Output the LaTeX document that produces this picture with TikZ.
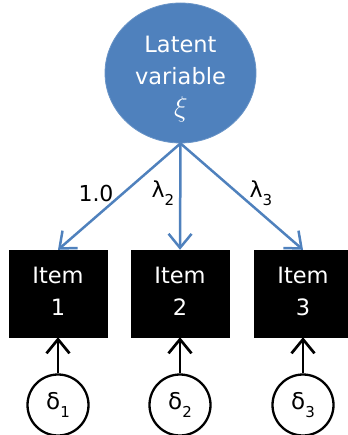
\documentclass[tikz,border=0pt]{standalone}
\usepackage{fontspec}
\setmainfont{DejaVu Sans}
\usetikzlibrary{shapes.geometric,arrows.meta}
\definecolor{lvblue}{HTML}{4F81BD}
\newcommand{\sub}[1]{\raisebox{-0.38em}{\fontsize{15}{15}\selectfont #1}}
\newcommand{\twoline}[2]{\raisebox{-9pt}{\begin{tabular}{@{}c@{}}#1\\#2\end{tabular}}}
\begin{document}
\begin{tikzpicture}[x=1pt,y=-1pt,
  lat/.style={ellipse, fill=lvblue, draw=lvblue!85!white, line width=0.8pt,
    minimum width=151pt, minimum height=140pt, inner sep=0pt},
  lattext/.style={text=white, align=center, inner sep=0pt,
    font=\fontsize{22.5}{32}\selectfont},
  itembox/.style={rectangle, fill=black, draw=black, minimum width=98pt,
    minimum height=87pt, inner sep=0pt, text=white,
    font=\fontsize{22.5}{32}\selectfont},
  errc/.style={circle, draw=black, line width=2.3pt, minimum size=61pt,
    inner sep=0pt, font=\fontsize{23}{25}\selectfont},
  load/.style={draw=lvblue, line width=2.5pt,
    -{Straight Barb[length=14pt, width=23pt, line width=2.5pt]}},
  errarrow/.style={draw=black, line width=2.7pt,
    -{Straight Barb[length=14pt, width=23pt, line width=2.7pt]}},
  lbl/.style={font=\fontsize{22}{24}\selectfont, inner sep=0pt}]
\useasboundingbox (0,0) rectangle (347,435);
\node[lat] (lv) at (180.5,73) {};
\node[lattext] (lvtext) at (180.5,60) {Latent\\variable};
\node[text=white, inner sep=0pt, font=\fontsize{24.88}{28}\selectfont] (xi) at (181,109) {\scalebox{1.15}{$\xi$}};
\node[itembox] (b1) at (58,293.5) {\twoline{Item}{1}};
\node[itembox] (b2) at (180,293.5) {\twoline{Item}{2}};
\node[itembox] (b3) at (303,293.5) {\twoline{Item}{3}};
\node[errc] (d1) at (58,405) {δ\sub{1}};
\node[errc] (d2) at (180,405) {δ\sub{2}};
\node[errc] (d3) at (303,405) {δ\sub{3}};
\draw[load] (lv.south) -- (b1.north);
\draw[load] (lv.south) -- (b2.north);
\draw[load] (lv.south) -- (b3.north);
\node[lbl] (l1) at (96,193) {1.0};
\node[lbl] (l2) at (163,193) {λ\sub{2}};
\node[lbl] (l3) at (261,193) {λ\sub{3}};
\draw[errarrow] (d1.north) -- (b1.south);
\draw[errarrow] (d2.north) -- (b2.south);
\draw[errarrow] (d3.north) -- (b3.south);
\end{tikzpicture}
\end{document}
